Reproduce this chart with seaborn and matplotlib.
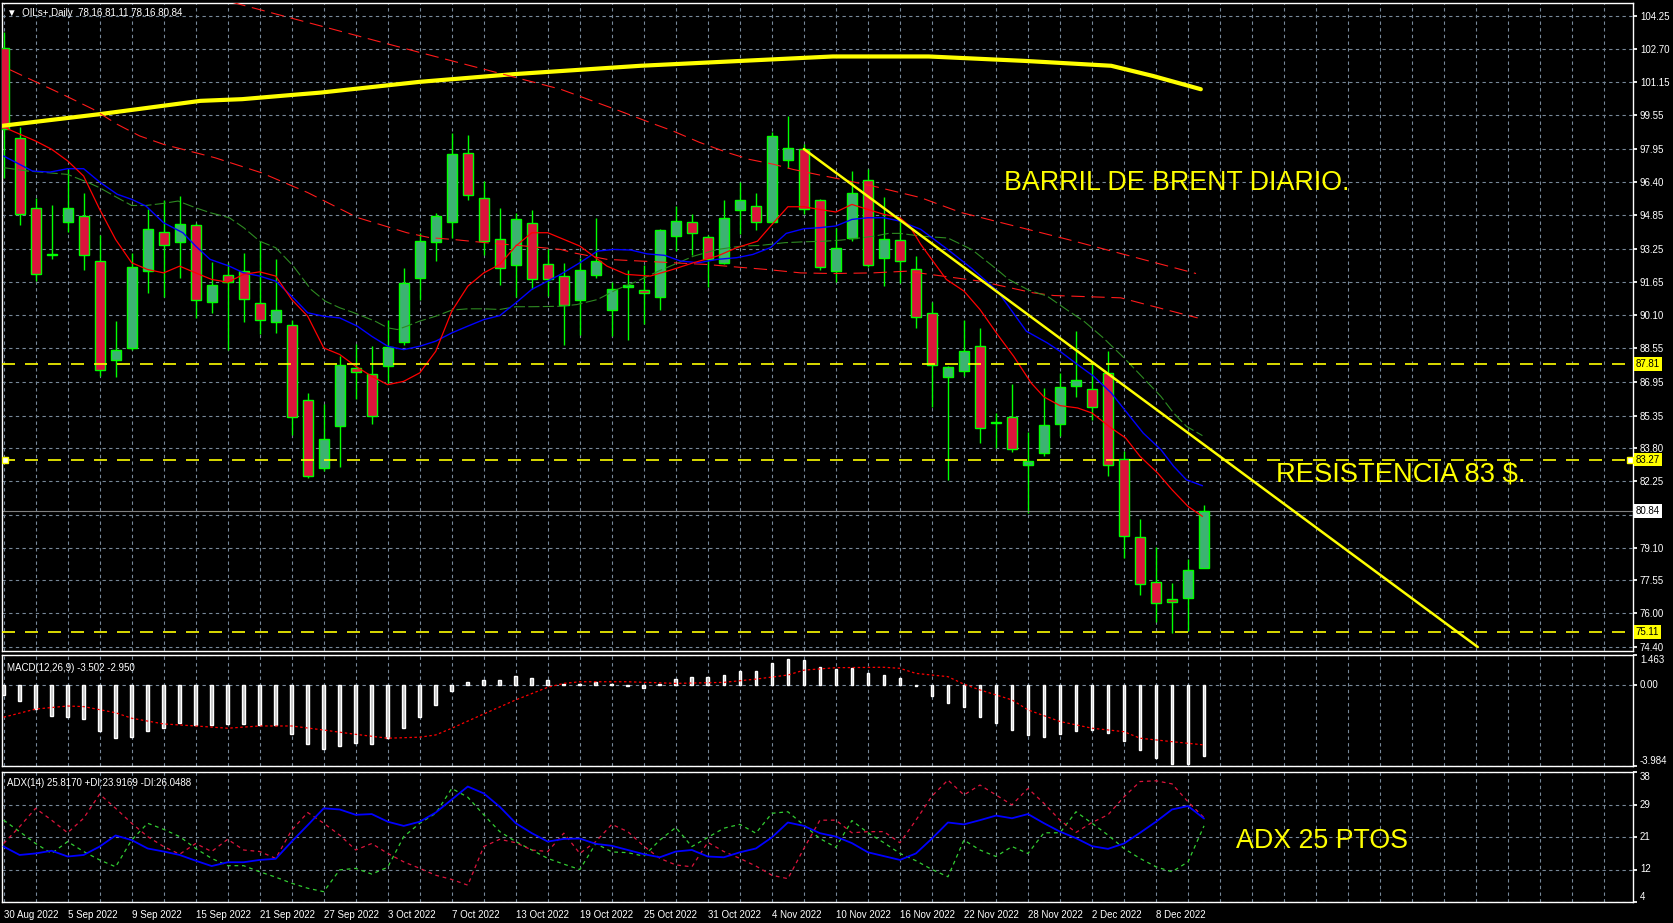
import numpy as np
import matplotlib
matplotlib.use("Agg")
import matplotlib.pyplot as plt
import matplotlib.transforms as mtransforms
from matplotlib import font_manager
import seaborn as sns

# ---------------------------------------------------------------
# OILs+ daily candles, 30 Aug 2022 .. 13 Dec 2022 (76 bars)
# ---------------------------------------------------------------
opens = [102.72, 98.50, 95.18, 92.93, 94.50, 94.80, 92.67, 87.98, 88.54, 92.20,
         94.05, 93.56, 94.38, 90.73, 91.99, 92.18, 90.68, 89.78, 89.62, 86.07,
         82.87, 84.84, 87.60, 87.32, 87.68, 88.82, 91.85, 93.56, 94.50, 97.79,
         95.64, 93.72, 92.45, 94.47, 92.53, 91.96, 90.81, 91.99, 90.33, 91.43,
         91.30, 90.97, 93.84, 94.52, 93.81, 92.58, 95.07, 95.28, 94.52, 97.46,
         97.96, 95.53, 92.18, 93.75, 96.51, 92.80, 93.65, 92.28, 90.21, 87.18,
         87.46, 88.65, 85.00, 85.30, 83.01, 83.58, 84.95, 86.74, 86.61, 87.37,
         83.28, 79.60, 77.46, 76.66, 76.71, 78.16]
highs = [103.48, 99.00, 95.63, 95.29, 97.00, 95.89, 93.87, 89.82, 93.05, 95.11,
         95.55, 95.74, 94.45, 92.61, 92.55, 93.02, 93.56, 92.74, 89.88, 86.42,
         85.91, 88.16, 88.74, 88.63, 89.89, 92.34, 94.00, 94.95, 98.74, 98.63,
         96.45, 95.15, 94.95, 95.06, 93.21, 92.58, 92.82, 94.71, 91.66, 92.26,
         92.45, 94.19, 95.26, 94.87, 93.90, 95.53, 96.42, 95.90, 98.77, 99.53,
         98.18, 95.58, 94.24, 96.92, 97.00, 95.70, 94.71, 92.90, 90.71, 87.71,
         89.86, 89.50, 85.47, 86.85, 84.59, 86.66, 87.34, 89.34, 87.84, 88.39,
         83.66, 80.47, 79.15, 77.42, 78.55, 81.11]
lows = [96.60, 94.35, 91.74, 92.74, 94.03, 92.23, 87.24, 87.16, 88.47, 91.16,
        90.94, 91.85, 89.96, 90.21, 88.47, 89.77, 89.22, 89.26, 84.45, 82.39,
        82.71, 82.90, 86.11, 84.97, 86.89, 88.71, 90.84, 92.64, 93.76, 95.53,
        92.93, 91.55, 90.95, 91.32, 91.00, 88.71, 89.18, 91.87, 89.10, 88.94,
        89.66, 90.34, 93.13, 92.94, 91.44, 92.50, 93.92, 94.13, 94.52, 97.08,
        94.87, 92.26, 91.66, 93.60, 92.40, 91.47, 91.60, 89.48, 85.76, 82.28,
        87.21, 84.05, 83.81, 83.61, 80.73, 83.45, 84.37, 86.23, 85.16, 82.47,
        78.63, 76.86, 75.60, 75.05, 75.17, 78.16]
closes = [98.90, 94.90, 92.06, 92.98, 95.18, 92.93, 87.52, 88.43, 92.40, 94.19,
          93.43, 94.43, 90.81, 91.55, 91.68, 90.87, 89.88, 90.35, 85.30, 82.47,
          84.24, 87.76, 87.41, 85.35, 88.60, 91.63, 93.62, 94.80, 97.74, 95.78,
          93.62, 92.34, 94.66, 91.79, 91.82, 90.57, 92.25, 92.67, 91.35, 91.51,
          91.16, 94.14, 94.57, 94.00, 92.77, 94.71, 95.53, 94.52, 98.60, 98.00,
          95.11, 92.39, 93.29, 95.90, 92.48, 93.72, 92.67, 90.02, 87.76, 87.65,
          88.41, 84.76, 85.05, 83.77, 83.20, 84.90, 86.70, 87.05, 85.76, 83.01,
          79.64, 77.39, 76.47, 76.52, 78.03, 80.84]

date_labels = ["30 Aug 2022", "5 Sep 2022", "9 Sep 2022", "15 Sep 2022", "21 Sep 2022",
               "27 Sep 2022", "3 Oct 2022", "7 Oct 2022", "13 Oct 2022", "19 Oct 2022",
               "25 Oct 2022", "31 Oct 2022", "4 Nov 2022", "10 Nov 2022", "16 Nov 2022",
               "22 Nov 2022", "28 Nov 2022", "2 Dec 2022", "8 Dec 2022"]

price_ticks = [104.25, 102.70, 101.15, 99.55, 97.95, 96.40, 94.85, 93.25, 91.65, 90.10,
               88.55, 86.95, 85.35, 83.80, 82.25, 80.65, 79.10, 77.55, 76.00, 74.40]
levels = [87.81, 83.27, 75.11]

# moving averages (bar index, price)
ma_fast_x = [0.2, 2, 3, 4, 5, 6, 7, 8, 9, 10, 11, 12, 13, 14, 15, 16, 17, 18, 19, 20,
             21, 22, 23, 24, 25, 26, 27, 28, 29, 30, 31, 32, 33, 34, 36, 37.7, 38.9, 40.4,
             41.8, 43.1, 44.6, 45.8, 47.1, 48.1, 49, 50, 51, 52, 53, 54, 55, 56, 56.6, 57.3,
             58.9, 60, 61, 62.1, 63.1, 64.2, 65, 66, 67.1, 68, 69.2, 70.1, 71, 72.1, 73,
             74, 74.9]
ma_fast_y = [98.93, 98.34, 97.95, 97.40, 96.68, 95.11, 93.68, 92.58, 92.26, 92.10, 92.42,
             92.10, 91.79, 91.66, 92.03, 92.15, 91.95, 90.84, 90.05, 88.55, 88.24, 87.68,
             87.21, 86.81, 86.97, 87.37, 88.39, 90.29, 91.47, 92.10, 92.50, 93.37, 94.00,
             94.00, 93.37, 92.42, 92.03, 91.95, 92.26, 92.58, 92.90, 93.29, 93.60, 94.47,
             95.23, 95.23, 95.10, 94.98, 95.34, 95.10, 94.87, 94.71, 94.32, 93.45, 91.79,
             91.24, 90.37, 89.18, 88.16, 86.89, 86.23, 85.82, 85.71, 85.47, 84.76, 84.29,
             83.42, 82.63, 81.84, 81.05, 80.58]

ma_mid_x = [0, 1.8, 2.9, 4, 5, 6, 7.1, 8, 8.9, 10, 11.2, 12, 12.9, 14.1, 15, 16, 17, 18.1,
            19, 20, 21, 22.1, 23, 24, 25, 26, 27, 28, 29, 30, 31, 32, 33, 34.8, 36, 37.1,
            38.1, 39.2, 40.2, 41.3, 42.3, 43.4, 44.6, 45.8, 46.8, 47.9, 48.9, 50, 51, 52,
            53, 54, 55, 56, 57.3, 59, 60.5, 62.1, 63.9, 65.2, 66, 67.1, 68.1, 69.2, 70.2,
            71.2, 72.3, 73.1, 73.9, 74.9]
ma_mid_y = [97.63, 96.92, 96.87, 97.03, 97.03, 96.40, 95.82, 95.58, 95.26, 94.47, 94.00,
            93.37, 92.74, 92.42, 92.10, 91.95, 91.71, 90.92, 90.21, 90.05, 89.97, 89.58,
            89.10, 88.63, 88.47, 88.63, 88.87, 89.26, 89.58, 89.89, 90.08, 90.68, 91.32,
            92.03, 92.58, 93.13, 93.21, 93.18, 93.00, 92.93, 92.66, 92.58, 92.74, 92.82,
            92.97, 93.29, 93.97, 94.19, 94.24, 94.32, 94.63, 94.71, 94.71, 94.55, 94.16,
            93.20, 92.30, 91.24, 89.34, 88.79, 88.39, 87.76, 87.21, 86.42, 85.47, 84.52,
            83.74, 82.95, 82.31, 82.03]

ma_slow_x = [0, 1.5, 4, 5.3, 6, 7.1, 8, 8.9, 10, 10.9, 12, 12.9, 14.1, 15, 16, 17, 17.6,
             18.1, 19.2, 20.1, 21, 21.8, 23.2, 24, 24.6, 25.2, 26, 27, 28, 29, 30, 31, 32,
             33, 34.8, 35.8, 37.1, 38.3, 39.6, 40.9, 41.9, 43.1, 44.6, 46.1, 47.3, 48.8, 50,
             51.3, 52.3, 53.6, 54.4, 55.3, 56, 57.3, 59, 60.5, 62, 62.8, 64, 65.2, 66.4,
             67.5, 68.7, 70, 71.2, 72.3, 73.1, 73.9, 74.9]
ma_slow_y = [97.08, 96.92, 96.76, 96.37, 96.13, 95.66, 95.29, 95.29, 95.39, 95.50, 95.18,
             94.95, 94.71, 94.24, 93.60, 93.29, 92.82, 92.42, 91.32, 90.76, 90.45, 90.24,
             89.82, 89.50, 89.42, 89.58, 89.82, 90.05, 90.34, 90.40, 90.40, 90.37, 90.50,
             90.50, 90.52, 90.60, 90.84, 91.31, 91.71, 92.18, 92.50, 92.89, 93.21, 93.37,
             93.40, 93.53, 93.57, 93.60, 93.65, 93.76, 93.84, 93.97, 93.97, 93.84, 93.75,
             93.20, 92.30, 91.79, 91.30, 91.00, 90.37, 89.81, 89.03, 88.08, 87.13, 86.26,
             85.47, 84.84, 84.40]

ma_red_up_x = [14.3, 26.0, 34.8, 38.5, 40.4, 41.8, 43.5, 45.2, 46.6, 48.1, 49.3, 50.8,
               52.3, 54.3, 56.0, 57.3, 59.8, 66.5, 74.5]
ma_red_up_y = [104.90, 102.53, 100.79, 99.76, 99.21, 98.82, 98.27, 97.80, 97.47, 97.24,
               97.00, 96.76, 96.53, 96.21, 95.90, 95.66, 94.96, 93.68, 92.07]

ma_red_lo_x = [0.4, 3.9, 5.6, 7.1, 8.5, 10.0, 13.2, 16.1, 19.0, 22.1, 25.2, 26.6, 28.1,
               30.1, 32.6, 34.8, 35.6, 37.7, 39.8, 41.8, 43.9, 45.6, 47.7, 49.8, 51.8, 54.3,
               56.4, 61.0, 64.3, 65.6, 69.8, 71.4, 74.6]
ma_red_lo_y = [101.71, 100.47, 99.84, 99.13, 98.58, 98.18, 97.55, 96.84, 95.90, 94.72,
               94.00, 93.77, 93.68, 93.53, 93.37, 93.21, 93.05, 92.74, 92.66, 92.58, 92.50,
               92.39, 92.26, 92.10, 92.07, 92.10, 92.18, 91.71, 91.16, 91.03, 90.92, 90.60,
               89.97]

ma_200_x = [-0.2, 6.0, 8.4, 12.3, 14.9, 18.5, 19.8, 26.0, 31.8, 39.8, 51.8, 57.8, 63.8,
            69.2, 71.8, 74.8]
ma_200_y = [99.05, 99.61, 99.85, 100.24, 100.32, 100.55, 100.63, 101.14, 101.50, 101.90,
            102.34, 102.34, 102.13, 101.90, 101.42, 100.79]

trend_x = [50.0, 92.1]
trend_y = [97.96, 74.40]

# MACD(12,26,9)
macd_hist = [-0.50, -0.79, -1.19, -1.53, -1.56, -1.68, -2.25, -2.59, -2.54, -2.25,
             -2.13, -1.86, -1.97, -1.97, -1.92, -1.92, -1.97, -1.97, -2.43, -2.90,
             -3.15, -3.00, -2.84, -2.90, -2.62, -2.10, -1.59, -0.99, -0.30, 0.15,
             0.24, 0.24, 0.45, 0.35, 0.24, 0.05, 0.03, 0.15, 0.02, -0.06,
             -0.17, 0.02, 0.28, 0.40, 0.40, 0.48, 0.68, 0.68, 1.09, 1.27,
             1.22, 0.89, 0.76, 0.84, 0.59, 0.48, 0.35, -0.06, -0.53, -0.87,
             -1.07, -1.56, -1.86, -2.22, -2.46, -2.54, -2.41, -2.25, -2.22, -2.35,
             -2.75, -3.20, -3.60, -3.88, -3.90, -3.502]
macd_sig_x = [0, 2, 4, 5, 7, 8, 10, 12, 14, 16, 18, 20, 22, 24, 26, 27, 28, 30, 32, 34,
              35, 36, 39, 42, 45, 47, 49, 50, 52, 55, 56, 57, 59, 60, 61, 63, 64, 66, 68,
              70, 71, 73, 75]
macd_sig_y = [-1.59, -1.19, -1.04, -1.07, -1.37, -1.64, -1.92, -2.02, -2.13, -2.02, -2.02,
              -2.22, -2.43, -2.62, -2.57, -2.46, -2.13, -1.43, -0.74, -0.12, 0.07, 0.15,
              0.15, 0.07, 0.12, 0.28, 0.48, 0.72, 0.84, 0.86, 0.81, 0.56, 0.40, 0.03,
              -0.25, -0.74, -1.23, -1.80, -2.13, -2.30, -2.62, -2.79, -2.950]

# ADX(14)
adx = [18.5, 16.3, 16.7, 17.4, 15.9, 16.3, 18.5, 21.4, 20.2, 18.0,
       17.2, 16.3, 14.8, 13.4, 14.4, 14.4, 15.0, 15.3, 19.8, 24.1,
       28.5, 28.2, 26.8, 27.0, 25.0, 23.9, 25.0, 27.4, 30.8, 34.2,
       32.4, 28.9, 24.6, 22.0, 19.8, 20.5, 20.6, 19.2, 18.7, 17.6,
       16.5, 15.7, 17.2, 17.6, 15.9, 15.7, 17.0, 18.0, 20.9, 24.8,
       23.9, 22.0, 21.1, 19.4, 17.0, 16.0, 15.0, 16.7, 20.6, 24.8,
       24.3, 25.4, 26.6, 25.9, 27.0, 24.6, 22.4, 20.7, 18.6, 17.9,
       19.3, 22.1, 25.0, 28.2, 29.1, 25.8170]
plus_di = [25.4, 22.4, 19.3, 16.7, 19.8, 17.2, 15.0, 13.2, 20.2, 24.6,
           23.0, 21.1, 18.0, 15.4, 13.5, 13.5, 11.9, 10.5, 8.9, 7.6,
           6.7, 12.4, 12.8, 11.3, 13.1, 21.1, 24.6, 27.2, 33.7, 31.4,
           26.8, 22.4, 19.8, 17.6, 15.4, 13.9, 12.5, 19.3, 17.1, 16.9,
           16.0, 20.2, 23.5, 18.5, 20.9, 23.3, 24.3, 22.0, 27.2, 27.6,
           24.1, 20.6, 18.3, 25.3, 22.1, 19.5, 16.7, 14.8, 12.5, 10.6,
           20.2, 17.6, 15.9, 18.5, 16.7, 22.1, 22.1, 27.6, 24.6, 21.5,
           18.0, 15.4, 13.2, 11.9, 14.5, 23.9169]
minus_di = [19.3, 23.7, 28.5, 25.4, 22.1, 25.9, 32.2, 28.5, 24.6, 21.1,
            18.5, 16.5, 19.3, 17.2, 20.4, 17.6, 17.2, 15.4, 22.8, 27.4,
            24.6, 21.5, 17.6, 19.3, 16.7, 14.5, 12.8, 11.0, 9.9, 8.4,
            18.5, 20.4, 19.5, 17.6, 17.2, 22.0, 16.7, 19.8, 24.3, 22.4,
            18.6, 15.4, 13.7, 13.2, 19.6, 17.2, 15.4, 13.4, 11.0, 10.1,
            18.0, 25.4, 25.4, 22.1, 22.4, 22.4, 19.5, 25.4, 31.7, 35.9,
            32.0, 34.6, 32.0, 29.4, 33.7, 29.8, 25.4, 22.2, 24.8, 26.8,
            31.5, 35.5, 35.7, 34.9, 30.2, 26.0488]

# ---------------------------------------------------------------
# style
# ---------------------------------------------------------------
sns.set_theme(style="dark", rc={
    "figure.facecolor": "black",
    "axes.facecolor": "black",
    "axes.edgecolor": "white",
    "text.color": "white",
    "xtick.color": "white",
    "ytick.color": "white",
})
plt.rcParams["font.family"] = ["Liberation Sans", "DejaVu Sans"]

names = {f.name for f in font_manager.fontManager.ttflist}
narrow = "Liberation Sans Narrow" if "Liberation Sans Narrow" in names else "Liberation Sans"
note_scale = 1.22 if narrow == "Liberation Sans Narrow" else 1.0

GRID = "#778899"
BULL, BEAR, WICK = "#3CB371", "#DC143C", "#00FF00"
W, H = 1673, 923

fig = plt.figure(figsize=(W / 100, H / 100), dpi=100)
ax1 = fig.add_axes([2 / W, 1 - 651 / H, 1631 / W, 648 / H])
ax2 = fig.add_axes([2 / W, 1 - 766 / H, 1631 / W, 111 / H])
ax3 = fig.add_axes([2 / W, 1 - 902 / H, 1631 / W, 130 / H])

n = len(closes)
idx = np.arange(n)
o, h, l, c = map(np.array, (opens, highs, lows, closes))

for ax in (ax1, ax2, ax3):
    ax.set_facecolor("black")
    ax.set_xlim(-0.1, 101.8)
    ax.set_xticks(np.arange(0, n, 4))
    ax.set_xticks(np.arange(0, 102, 2), minor=True)
    ax.grid(True, which="both", axis="x", color=GRID, linestyle=(0, (3, 3)), linewidth=0.8)
    ax.grid(True, which="major", axis="y", color=GRID, linestyle=(0, (3, 3)), linewidth=0.8)
    ax.set_axisbelow(True)
    for sp in ax.spines.values():
        sp.set_color("white")
        sp.set_linewidth(1.0)
    ax.yaxis.tick_right()
    ax.tick_params(axis="y", which="both", colors="white", labelsize=7, length=3, pad=2)
    ax.tick_params(axis="x", which="minor", length=0)

# ---------------- price panel ----------------
ax1.vlines(idx, l, h, color=WICK, linewidth=1, zorder=2)
ax1.bar(idx, c - o, bottom=o, width=0.62,
        color=np.where(c >= o, BULL, BEAR), edgecolor=WICK, linewidth=1, zorder=3)

sns.lineplot(x=ma_200_x, y=ma_200_y, ax=ax1, color="yellow", linewidth=3, zorder=4)
sns.lineplot(x=ma_red_up_x, y=ma_red_up_y, ax=ax1, color="#FF1A1A", linewidth=0.8,
             linestyle=(0, (12, 6)), zorder=4)
sns.lineplot(x=ma_red_lo_x, y=ma_red_lo_y, ax=ax1, color="#FF1A1A", linewidth=0.8,
             linestyle=(0, (12, 6)), zorder=4)
sns.lineplot(x=ma_slow_x, y=ma_slow_y, ax=ax1, color="#2E8B22", linewidth=0.8,
             linestyle=(0, (10, 3)), zorder=4)
sns.lineplot(x=ma_mid_x, y=ma_mid_y, ax=ax1, color="#0000FF", linewidth=1.0, zorder=4)
sns.lineplot(x=ma_fast_x, y=ma_fast_y, ax=ax1, color="#FF0000", linewidth=0.9, zorder=4)
sns.lineplot(x=trend_x, y=trend_y, ax=ax1, color="yellow", linewidth=1.8, zorder=5)

for lev in levels:
    ax1.axhline(lev, color="yellow", linewidth=1.2, linestyle=(0, (7.8, 6)), zorder=5)
ax1.axhline(closes[-1], color="#808080", linewidth=0.8, zorder=2)

yax = mtransforms.blended_transform_factory(ax1.transAxes, ax1.transData)
ax1.plot([0.002, 0.998], [levels[1], levels[1]], transform=yax, linestyle="none",
         marker="s", markersize=4, markerfacecolor="white", markeredgecolor="yellow", zorder=6)

ax1.set_ylim(74.21, 104.87)
ax1.set_yticks(price_ticks)
# the tick under the last-price box is covered in the terminal, keep only its grid line
ax1.set_yticklabels(["" if abs(v - closes[-1]) < 0.3 else f"{v:.2f}" for v in price_ticks])
ax1.tick_params(axis="x", which="both", length=0, labelbottom=False)
ax1.set_xlabel("")
ax1.set_ylabel("")

for lev in levels:
    ax1.text(1.0015, lev, f"{lev:.2f}", transform=yax, fontsize=7, color="black",
             va="center", ha="left", clip_on=False, zorder=7,
             bbox=dict(boxstyle="square,pad=0.2", facecolor="yellow", edgecolor="none"))
ax1.text(1.0015, closes[-1], f"{closes[-1]:.2f}", transform=yax, fontsize=7, color="black",
         va="center", ha="left", clip_on=False, zorder=7,
         bbox=dict(boxstyle="square,pad=0.2", facecolor="white", edgecolor="none"))

ax1.text(0.003, 0.992, "\u25bc  OILs+,Daily  "
         f"{opens[-1]:.2f} {highs[-1]:.2f} {lows[-1]:.2f} {closes[-1]:.2f}",
         transform=ax1.transAxes, fontsize=7, color="white", va="top", ha="left")

ax1.text(62.5, 96.34, "BARRIL DE BRENT DIARIO.", color="yellow", family=narrow,
         fontsize=19.3 * note_scale, va="center", ha="left", zorder=8)
ax1.text(79.5, 82.55, "RESISTENCIA 83 $.", color="yellow", family=narrow,
         fontsize=19.7 * note_scale, va="center", ha="left", zorder=8)

# ---------------- MACD panel ----------------
ax2.bar(idx, macd_hist, width=0.17, color="#C0C0C0", zorder=3)
sns.lineplot(x=macd_sig_x, y=macd_sig_y, ax=ax2, color="#FF0000", linewidth=0.9,
             linestyle=(0, (2, 2)), zorder=4)
ax2.set_ylim(-3.984, 1.463)
ax2.set_yticks([-3.984, 0.0, 1.463])
ax2.set_yticklabels(["-3.984", "0.00", "1.463"])
for lbl, va in zip(ax2.get_yticklabels(), ["bottom", "center", "top"]):
    lbl.set_va(va)
ax2.tick_params(axis="x", which="both", length=0, labelbottom=False)
ax2.set_xlabel("")
ax2.set_ylabel("")
ax2.text(0.003, 0.93, f"MACD(12,26,9) {macd_hist[-1]:.3f} {macd_sig_y[-1]:.3f}",
         transform=ax2.transAxes, fontsize=7, color="white", va="top", ha="left")

# ---------------- ADX panel ----------------
sns.lineplot(x=idx, y=plus_di, ax=ax3, color="#32CD32", linewidth=0.9,
             linestyle=(0, (3, 3)), zorder=3)
sns.lineplot(x=idx, y=minus_di, ax=ax3, color="#DC143C", linewidth=0.9,
             linestyle=(0, (3, 3)), zorder=3)
sns.lineplot(x=idx, y=adx, ax=ax3, color="#0000FF", linewidth=1.3, zorder=4)
ax3.set_ylim(4, 38)
adx_ticks = np.linspace(4, 38, 5)
ax3.set_yticks(adx_ticks)
ax3.set_yticklabels([str(int(v)) for v in adx_ticks])
for lbl, va in zip(ax3.get_yticklabels(), ["bottom", "center", "center", "center", "top"]):
    lbl.set_va(va)
ax3.set_xticklabels(date_labels, ha="left")
ax3.tick_params(axis="x", which="major", colors="white", labelsize=7, length=4, pad=1.5)
ax3.set_xlabel("")
ax3.set_ylabel("")
ax3.text(0.003, 0.95, f"ADX(14) {adx[-1]:.4f} +DI:{plus_di[-1]:.4f} -DI:{minus_di[-1]:.4f}",
         transform=ax3.transAxes, fontsize=7, color="white", va="top", ha="left")
ax3.text(77.0, 20.0, "ADX 25 PTOS", color="yellow", family=narrow,
         fontsize=19.3 * note_scale, va="center", ha="left", zorder=8)

fig.savefig("out.png", dpi=100, facecolor="black")
